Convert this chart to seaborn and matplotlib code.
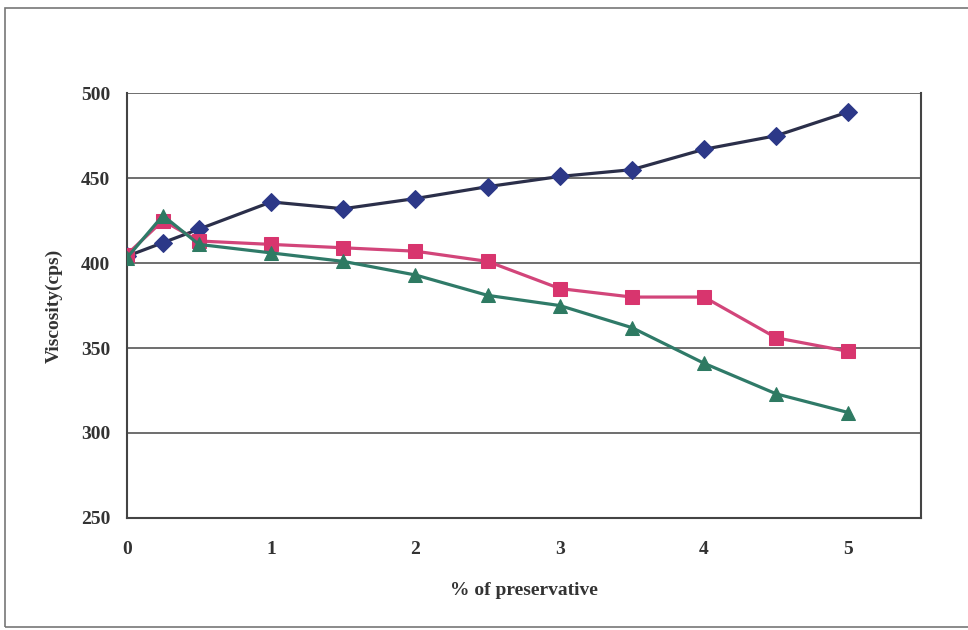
import matplotlib
matplotlib.use("Agg")
import matplotlib.pyplot as plt
import seaborn as sns
import pandas as pd
from matplotlib.patches import Rectangle

sns.set_style("white")
plt.rcParams['font.family'] = ['Liberation Serif', 'DejaVu Serif']

preservative = [0, 0.25, 0.5, 1, 1.5, 2, 2.5, 3, 3.5, 4, 4.5, 5]
series_a = [404, 412, 420, 436, 432, 438, 445, 451, 455, 467, 475, 489]
series_b = [405, 425, 413, 411, 409, 407, 401, 385, 380, 380, 356, 348]
series_c = [403, 428, 411, 406, 401, 393, 381, 375, 362, 341, 323, 312]
series_names = ["A", "B", "C"]
y_ticks = [250, 300, 350, 400, 450, 500]
x_ticks = [0, 1, 2, 3, 4, 5]

df = pd.DataFrame({
    "x": preservative * 3,
    "y": series_a + series_b + series_c,
    "s": [series_names[0]] * len(preservative) + [series_names[1]] * len(preservative)
         + [series_names[2]] * len(preservative),
})

fig = plt.figure(figsize=(9.68, 6.3), dpi=100)
ax = fig.add_axes([0.131, 0.178, 0.820, 0.674])

line_colors = {"A": "#2b2f4a", "B": "#d2457a", "C": "#2f7a68"}
marker_colors = {"A": "#2c3888", "B": "#d8356e", "C": "#2e7a62"}
markers = {"A": "D", "B": "s", "C": "^"}
sizes = {"A": 9, "B": 10, "C": 10}

for name in series_names:
    sub = df[df["s"] == name]
    sns.lineplot(data=sub, x="x", y="y", ax=ax, color=line_colors[name], lw=2.3,
                 marker=markers[name], markersize=sizes[name],
                 markerfacecolor=marker_colors[name], markeredgecolor=marker_colors[name],
                 legend=False, zorder=3)

ax.set_xlim(0, 5.5)
ax.set_ylim(250, 500)
ax.set_xticks(x_ticks)
ax.set_yticks(y_ticks)
ax.set_xticklabels([str(t) for t in x_ticks], fontsize=14, fontweight="bold", color="#333333")
ax.set_yticklabels([str(t) for t in y_ticks], fontsize=14, fontweight="bold", color="#333333")
ax.yaxis.grid(True, color="#555555", lw=1.2)
ax.set_axisbelow(True)
for side in ["left", "bottom", "right"]:
    ax.spines[side].set_color("#444444")
    ax.spines[side].set_linewidth(1.5)
ax.spines["top"].set_visible(False)
ax.tick_params(axis="y", direction="out", length=5, color="#444444", pad=7)
ax.tick_params(axis="x", direction="inout", length=6, color="#444444", pad=14)
ax.set_xlabel("% of preservative", fontsize=14, fontweight="bold", color="#333333", labelpad=17)
ax.set_ylabel("Viscosity(cps)", fontsize=14, fontweight="bold", color="#333333", labelpad=13)

# outer chart frame
fig.patches.append(Rectangle((5 / 968, 1 - 627 / 630), 1.2, (627 - 8) / 630,
                             transform=fig.transFigure, fill=False,
                             edgecolor="#777777", lw=1.2))

fig.savefig("out.png", dpi=100)
